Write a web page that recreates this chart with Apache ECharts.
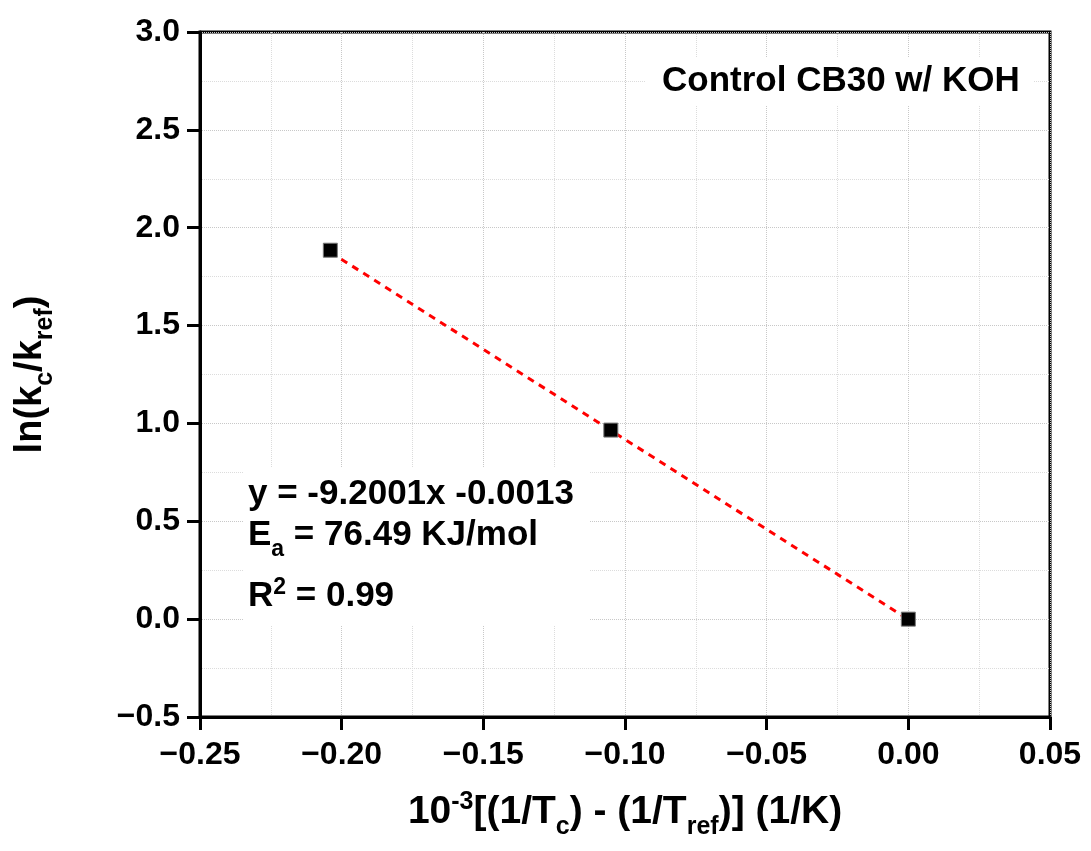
<!DOCTYPE html>
<html>
<head>
<meta charset="utf-8">
<script src="https://cdn.jsdelivr.net/npm/echarts@6/dist/echarts.min.js"></script>
<style>html,body{margin:0;padding:0;background:#fff;}#c{width:1091px;height:851px;}</style>
</head>
<body>
<div id="c"></div>
<script>
// Data
const xValues = [-0.204, -0.105, 0.0];
const yValues = [1.885, 0.966, 0.0];
const fitX = [-0.204, 0.0];
const fitY = [1.875, -0.0013];
const xTicks = [-0.25, -0.20, -0.15, -0.10, -0.05, 0.00, 0.05];
const yTicks = [-0.5, 0.0, 0.5, 1.0, 1.5, 2.0, 2.5, 3.0];
const labelTitle = 'Control CB30 w/ KOH';
const eqLine = 'y = -9.2001x -0.0013';
const eaValue = ' = 76.49 KJ/mol';
const r2Value = ' = 0.99';

const FONT = '"Liberation Sans", Arial, sans-serif';
const chart = echarts.init(document.getElementById('c'), null, {renderer: 'canvas'});

const pts = xValues.map((x, i) => [x, yValues[i]]);
const fit = fitX.map((x, i) => [x, fitY[i]]);

const gridStyle = {show: true, lineStyle: {color: '#c8c8c8', type: 'dotted', width: 1}};
const minorGrid = {show: true, lineStyle: {color: '#dcdcdc', type: 'dotted', width: 1}};

const base = {fontFamily: FONT, fontWeight: 'bold', color: '#000'};
function richSet(fs, ss, subPad, supPad) {
  return {
    b: Object.assign({}, base, {fontSize: fs, lineHeight: fs, verticalAlign: 'top'}),
    sub: Object.assign({}, base, {fontSize: ss, lineHeight: ss, verticalAlign: 'top', padding: [subPad, 0, 0, 0]}),
    sup: Object.assign({}, base, {fontSize: ss, lineHeight: ss, verticalAlign: 'top', padding: [supPad, 0, 0, 0]})
  };
}
const richX = richSet(39, 25, 22, -3);
const richY = richSet(38, 25, 21, -3);
const richAnn = richSet(35, 23, 20, -3);

const option = {
  animation: false,
  backgroundColor: '#fff',
  grid: {left: 200, right: 41, top: 32, bottom: 134, show: true, borderColor: '#000', borderWidth: 3, containLabel: false},
  xAxis: {
    type: 'value', min: xTicks[0], max: xTicks[xTicks.length - 1], interval: 0.05,
    axisLine: {show: true, onZero: false, lineStyle: {color: '#000', width: 3}},
    axisTick: {show: true, inside: false, length: 13, lineStyle: {color: '#000', width: 3}},
    minorTick: {show: false, splitNumber: 2},
    splitLine: gridStyle,
    minorSplitLine: minorGrid,
    axisLabel: {margin: 22, fontFamily: FONT, fontWeight: 'bold', fontSize: 32, color: '#000',
      formatter: v => (v < 0 ? '\u2212' : '') + Math.abs(v).toFixed(2)},
    name: '{b|10}{sup|-3}{b|[(1/T}{sub|c}{b|) - (1/T}{sub|ref}{b|)] (1/K)}',
    nameLocation: 'middle', nameGap: 76,
    nameTextStyle: {rich: richX}
  },
  yAxis: {
    type: 'value', min: yTicks[0], max: yTicks[yTicks.length - 1], interval: 0.5,
    axisLine: {show: true, onZero: false, lineStyle: {color: '#000', width: 3}},
    axisTick: {show: true, inside: false, length: 13, lineStyle: {color: '#000', width: 3}},
    minorTick: {show: false, splitNumber: 2},
    splitLine: gridStyle,
    minorSplitLine: minorGrid,
    axisLabel: {margin: 20, fontFamily: FONT, fontWeight: 'bold', fontSize: 32, color: '#000',
      formatter: v => (v < 0 ? '\u2212' : '') + Math.abs(v).toFixed(1)},
    name: '{b|ln(k}{sub|c}{b|/k}{sub|ref}{b|)}',
    nameLocation: 'middle', nameGap: 150, nameRotate: 90,
    nameTextStyle: {rich: richY}
  },
  graphic: [
    {type: 'rect', left: 645, top: 57, z: 50, shape: {width: 388, height: 48}, style: {fill: '#fff'}},
    {type: 'text', left: 662, top: 64, z: 51, style: {text: labelTitle, font: 'bold 35px ' + FONT, fill: '#000'}},
    {type: 'rect', left: 243, top: 468, z: 50, shape: {width: 347, height: 157}, style: {fill: '#fff'}},
    {type: 'text', left: 248, top: 477, z: 51, style: {text: '{b|' + eqLine + '}', rich: richAnn}},
    {type: 'text', left: 248, top: 518, z: 51, style: {text: '{b|E}{sub|a}{b|' + eaValue + '}', rich: richAnn}},
    {type: 'text', left: 248, top: 576, z: 51, style: {text: '{b|R}{sup|2}{b|' + r2Value + '}', rich: richAnn}}
  ],
  series: [
    {
      type: 'line', data: fit, showSymbol: false, symbol: 'none', z: 3,
      lineStyle: {color: '#ff0000', width: 3, type: [7, 6]}, silent: true
    },
    {
      type: 'scatter', data: pts, symbol: 'rect', symbolSize: 14, z: 5,
      itemStyle: {color: '#000', borderColor: '#777', borderWidth: 1, opacity: 1}
    }
  ]
};
chart.setOption(option);
</script>
</body>
</html>
